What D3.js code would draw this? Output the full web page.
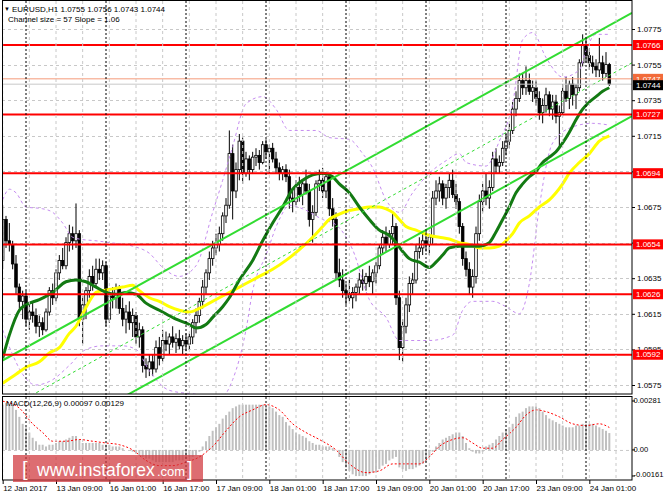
<!DOCTYPE html>
<html>
<head>
<meta charset="utf-8">
<script src="https://cdn.jsdelivr.net/npm/d3@7"></script>
<style>
  body { margin: 0; background: #fff; }
  svg text { font-family: "Liberation Sans", Arial, sans-serif; }
</style>
</head>
<body>
<div id="canvas"></div>
<script>
// EURUSD H1, bars 0..182 (12 Jan 17:00 -> 24 Jan 08:00)
const opens = [
  1.0645,1.0668,1.0656,1.0654,1.0643,1.0630,1.0622,1.0625,1.0612,1.0616,
  1.0614,1.0608,1.0610,1.0606,1.0616,1.0628,1.0624,1.0638,1.0645,1.0642,
  1.0655,1.0660,1.0656,1.0660,1.0612,1.0620,1.0628,1.0636,1.0632,1.0640,
  1.0638,1.0642,1.0612,1.0625,1.0624,1.0629,1.0618,1.0612,1.0616,1.0610,
  1.0614,1.0602,1.0606,1.0586,1.0584,1.0588,1.0584,1.0596,1.0590,1.0600,
  1.0598,1.0602,1.0599,1.0601,1.0597,1.0600,1.0598,1.0602,1.0610,1.0614,
  1.0622,1.0630,1.0638,1.0646,1.0652,1.0654,1.0660,1.0670,1.0676,1.0705,
  1.0684,1.0696,1.0712,1.0694,1.0702,1.0696,1.0703,1.0704,1.0700,1.0710,
  1.0706,1.0708,1.0702,1.0697,1.0694,1.0696,1.0692,1.0680,1.0678,1.0686,
  1.0682,1.0688,1.0684,1.0668,1.0672,1.0688,1.0690,1.0684,1.0692,1.0674,
  1.0668,1.0638,1.0634,1.0628,1.0626,1.0624,1.0627,1.0630,1.0634,1.0632,
  1.0636,1.0633,1.0638,1.0642,1.0652,1.0658,1.0654,1.0660,1.0664,1.0624,
  1.0596,1.0608,1.0620,1.0632,1.0634,1.0650,1.0652,1.0656,1.0654,1.0658,
  1.0680,1.0684,1.0688,1.0680,1.0686,1.0690,1.0682,1.0678,1.0664,1.0646,
  1.0640,1.0630,1.0636,1.0660,1.0678,1.0684,1.0680,1.0686,1.0702,1.0698,
  1.0700,1.0708,1.0712,1.0718,1.0730,1.0736,1.0746,1.0742,1.0746,1.0740,
  1.0742,1.0736,1.0728,1.0732,1.0738,1.0730,1.0734,1.0726,1.0728,1.0740,
  1.0736,1.0744,1.0738,1.0742,1.0756,1.0766,1.0760,1.0756,1.0754,1.0752,
  1.0756,1.0750,1.0755
]
const highs = [
  1.0676,1.0670,1.0666,1.0656,1.0648,1.0632,1.0628,1.0628,1.0620,1.0622,
  1.0618,1.0614,1.0613,1.0618,1.0630,1.0632,1.0640,1.0648,1.0652,1.0658,
  1.0665,1.0664,1.0677,1.0662,1.0625,1.0630,1.0640,1.0642,1.0646,1.0646,
  1.0645,1.0644,1.0628,1.0630,1.0632,1.0631,1.0624,1.0620,1.0622,1.0618,
  1.0616,1.0610,1.0608,1.0590,1.0592,1.0592,1.0600,1.0602,1.0606,1.0605,
  1.0604,1.0608,1.0604,1.0606,1.0603,1.0604,1.0604,1.0612,1.0618,1.0624,
  1.0634,1.0640,1.0650,1.0656,1.0660,1.0664,1.0672,1.0680,1.0718,1.0710,
  1.0700,1.0716,1.0714,1.0706,1.0704,1.0706,1.0708,1.0707,1.0712,1.0713,
  1.0710,1.0711,1.0706,1.0700,1.0698,1.0699,1.0696,1.0684,1.0690,1.0692,
  1.0690,1.0696,1.0688,1.0676,1.0690,1.0696,1.0697,1.0694,1.0694,1.0680,
  1.0672,1.0646,1.0640,1.0632,1.0634,1.0630,1.0632,1.0638,1.0640,1.0638,
  1.0642,1.0640,1.0644,1.0654,1.0662,1.0664,1.0662,1.0672,1.0666,1.0628,
  1.0612,1.0624,1.0636,1.0638,1.0654,1.0658,1.0660,1.0662,1.0660,1.0684,
  1.0690,1.0692,1.0690,1.0688,1.0694,1.0696,1.0688,1.0680,1.0666,1.0650,
  1.0644,1.0640,1.0664,1.0682,1.0688,1.0694,1.0690,1.0706,1.0708,1.0704,
  1.0712,1.0716,1.0722,1.0734,1.0740,1.0750,1.0750,1.0754,1.0750,1.0746,
  1.0746,1.0740,1.0736,1.0742,1.0740,1.0738,1.0738,1.0732,1.0744,1.0748,
  1.0746,1.0748,1.0744,1.0758,1.0772,1.0770,1.0764,1.0760,1.0758,1.0770,
  1.0760,1.0762,1.0756
]
const lows = [
  1.0640,1.0652,1.0650,1.0640,1.0626,1.0618,1.0612,1.0608,1.0606,1.0610,
  1.0604,1.0602,1.0603,1.0605,1.0614,1.0620,1.0622,1.0634,1.0640,1.0640,
  1.0650,1.0651,1.0652,1.0608,1.0598,1.0612,1.0624,1.0628,1.0630,1.0634,
  1.0634,1.0608,1.0610,1.0618,1.0618,1.0615,1.0608,1.0604,1.0606,1.0602,
  1.0598,1.0596,1.0582,1.0579,1.0580,1.0580,1.0582,1.0586,1.0588,1.0594,
  1.0592,1.0596,1.0593,1.0595,1.0592,1.0594,1.0595,1.0598,1.0604,1.0610,
  1.0618,1.0626,1.0634,1.0642,1.0648,1.0650,1.0656,1.0666,1.0674,1.0668,
  1.0680,1.0690,1.0688,1.0692,1.0690,1.0694,1.0698,1.0696,1.0699,1.0702,
  1.0694,1.0700,1.0694,1.0690,1.0690,1.0689,1.0674,1.0672,1.0676,1.0678,
  1.0676,1.0682,1.0664,1.0655,1.0670,1.0684,1.0680,1.0680,1.0670,1.0664,
  1.0634,1.0630,1.0624,1.0620,1.0622,1.0618,1.0622,1.0626,1.0628,1.0628,
  1.0630,1.0626,1.0632,1.0640,1.0648,1.0650,1.0652,1.0654,1.0620,1.0589,
  1.0588,1.0604,1.0616,1.0626,1.0632,1.0646,1.0648,1.0650,1.0648,1.0654,
  1.0676,1.0678,1.0676,1.0674,1.0680,1.0680,1.0674,1.0660,1.0642,1.0636,
  1.0626,1.0624,1.0632,1.0656,1.0672,1.0676,1.0674,1.0684,1.0694,1.0694,
  1.0698,1.0704,1.0708,1.0716,1.0726,1.0734,1.0738,1.0738,1.0738,1.0734,
  1.0732,1.0724,1.0722,1.0728,1.0726,1.0724,1.0722,1.0708,1.0726,1.0734,
  1.0730,1.0732,1.0730,1.0740,1.0754,1.0756,1.0752,1.0750,1.0748,1.0748,
  1.0746,1.0748,1.0743
]
const closes = [
  1.0668,1.0656,1.0654,1.0643,1.0630,1.0622,1.0625,1.0612,1.0616,1.0614,
  1.0608,1.0610,1.0606,1.0616,1.0628,1.0624,1.0638,1.0645,1.0642,1.0655,
  1.0660,1.0656,1.0660,1.0612,1.0620,1.0628,1.0636,1.0632,1.0640,1.0638,
  1.0642,1.0612,1.0625,1.0624,1.0629,1.0618,1.0612,1.0616,1.0610,1.0614,
  1.0602,1.0606,1.0586,1.0584,1.0588,1.0584,1.0596,1.0590,1.0600,1.0598,
  1.0602,1.0599,1.0601,1.0597,1.0600,1.0598,1.0602,1.0610,1.0614,1.0622,
  1.0630,1.0638,1.0646,1.0652,1.0654,1.0660,1.0670,1.0676,1.0705,1.0684,
  1.0696,1.0712,1.0694,1.0702,1.0696,1.0703,1.0704,1.0700,1.0710,1.0706,
  1.0708,1.0702,1.0697,1.0694,1.0696,1.0692,1.0680,1.0678,1.0686,1.0682,
  1.0688,1.0684,1.0668,1.0672,1.0688,1.0690,1.0684,1.0692,1.0674,1.0668,
  1.0638,1.0634,1.0628,1.0626,1.0624,1.0627,1.0630,1.0634,1.0632,1.0636,
  1.0633,1.0638,1.0642,1.0652,1.0658,1.0654,1.0660,1.0664,1.0624,1.0596,
  1.0608,1.0620,1.0632,1.0634,1.0650,1.0652,1.0656,1.0654,1.0658,1.0680,
  1.0684,1.0688,1.0680,1.0686,1.0690,1.0682,1.0678,1.0664,1.0646,1.0640,
  1.0630,1.0636,1.0660,1.0678,1.0684,1.0680,1.0686,1.0702,1.0698,1.0700,
  1.0708,1.0712,1.0718,1.0730,1.0736,1.0746,1.0742,1.0746,1.0740,1.0742,
  1.0736,1.0728,1.0732,1.0738,1.0730,1.0734,1.0726,1.0728,1.0740,1.0736,
  1.0744,1.0738,1.0742,1.0756,1.0766,1.0760,1.0756,1.0754,1.0752,1.0756,
  1.0750,1.0755,1.0744
]

// moving averages (bar index / price)
const fastIdx = [0,2,5,7,11,15,19,22,25,28,31,34,37,40,43,47,52,56,58,61,63,66,68,71,75,78,81,84,87,90,
  93,96,99,101,104,107,110,113,116,118,120,122,125,128,130,132,134,137,140,143,146,148,150,152,154,156,158,160,162,164,
  166,168,170,172,174,176,178,180,182]
const fastVal = [1.0590,1.0603,1.0617,1.0620,1.0623,1.0627,1.0633,1.0634,1.0633,1.0630,1.0627,1.0626,1.0627,1.0626,1.0621,
  1.0617,1.0612,1.0609,1.0607,1.0609,1.0613,1.0619,1.0624,1.0634,1.0645,1.0656,1.0666,1.0675,1.0685,1.0690,
  1.0693,1.0694,1.0692,1.0688,1.0683,1.0675,1.0668,1.0662,1.0659,1.0655,1.0650,1.0646,1.0644,1.0641,1.0644,
  1.0648,1.0652,1.0653,1.0653,1.0653,1.0655,1.0661,1.0668,1.0675,1.0683,1.0688,1.0692,1.0695,1.0700,1.0703,
  1.0706,1.0711,1.0717,1.0724,1.0730,1.0734,1.0737,1.0740,1.0742]
const slowIdx = [0,4,7,11,14,17,20,22,24,26,28,30,33,36,39,41,44,47,50,53,56,59,62,65,69,73,77,81,85,89,
  93,96,98,101,104,107,110,113,115,117,119,121,124,128,131,134,137,140,143,146,149,151,153,155,158,161,164,166,168,170,
  173,176,179,182]
const slowVal = [1.0576,1.0581,1.0585,1.0588,1.0593,1.0596,1.0604,1.0608,1.0615,1.0622,1.0627,1.0628,1.0629,1.0630,1.0631,
  1.0628,1.0624,1.0622,1.0619,1.0617,1.0616,1.0618,1.0621,1.0624,1.0628,1.0632,1.0636,1.0640,1.0645,1.0651,
  1.0658,1.0664,1.0668,1.0671,1.0673,1.0674,1.0675,1.0675,1.0674,1.0672,1.0668,1.0664,1.0662,1.0659,1.0658,
  1.0657,1.0655,1.0654,1.0652,1.0652,1.0653,1.0656,1.0660,1.0666,1.0670,1.0675,1.0679,1.0683,1.0688,1.0694,
  1.0700,1.0705,1.0712,1.0715]

// envelope bands (purple dashed)
const bandUpIdx = [0,2,4,7,12,15,18,21,23,28,32,39,44,48,53,58,63,66,69,73,78,82,86,94,98,104,108,111,115,119,
  123,128,133,137,139,145,149,153,156,159,163,168,173,175,178,182]
const bandUpVal = [1.0679,1.0685,1.0683,1.0675,1.0674,1.0672,1.0666,1.0658,1.0657,1.0656,1.0655,1.0653,1.0649,1.0641,1.0636,
  1.0642,1.0672,1.0690,1.0709,1.0733,1.0737,1.0730,1.0718,1.0718,1.0714,1.0713,1.0705,1.0697,1.0679,1.0672,
  1.0683,1.0694,1.0701,1.0705,1.0700,1.0698,1.0712,1.0733,1.0769,1.0773,1.0759,1.0748,1.0752,1.0763,1.0772,1.0772]
const bandLoIdx = [0,3,6,10,15,20,25,30,36,40,44,50,57,63,66,69,73,75,79,83,86,90,96,100,105,110,115,119,128,135,
  138,141,147,151,155,158,161,165,171,177,182]
const bandLoVal = [1.0606,1.0592,1.0581,1.0575,1.0578,1.0586,1.0595,1.0597,1.0597,1.0595,1.0583,1.0572,1.0570,1.0569,1.0569,
  1.0578,1.0606,1.0628,1.0648,1.0668,1.0676,1.0674,1.0668,1.0665,1.0651,1.0623,1.0613,1.0600,1.0600,1.0603,
  1.0617,1.0622,1.0622,1.0619,1.0615,1.0632,1.0675,1.0711,1.0720,1.0722,1.0721]

// trend channel (bar index, price)
const channelUpper = [[-0.8, 1.0588], [188.8, 1.0784]]
const channelMiddle = [[8.5, 1.0569], [188.8, 1.0756]]
const channelLower = [[37, 1.0569], [188.8, 1.0726]]

const levels = [1.0766, 1.0727, 1.0694, 1.0654, 1.0626, 1.0592]
const askLevel = 1.0747
const bidLevel = 1.0744

// MACD(12,26,9)
const macdHist = [
  0.0026,0.0027,0.0026,0.0026,0.0023,0.0019,0.0015,0.0013,0.0010,0.0007,
  0.0005,0.0003,0.0003,0.0002,0.0003,0.0003,0.0004,0.0005,0.0005,0.0006,
  0.0007,0.0008,0.0008,0.0006,0.0004,0.0004,0.0004,0.0004,0.0004,0.0004,
  0.0003,0.0003,0.0003,0.0002,0.0002,0.0002,0.0001,0,0,-0.0001,
  -0.0002,-0.0003,-0.0004,-0.0005,-0.0005,-0.0006,-0.0007,-0.0007,-0.0007,-0.0007,
  -0.0007,-0.0007,-0.0006,-0.0006,-0.0006,-0.0005,-0.0004,-0.0004,-0.0003,-0.0001,
  0.0002,0.0005,0.0008,0.0011,0.0013,0.0015,0.0018,0.0020,0.0022,0.0024,
  0.0025,0.0026,0.0026,0.0026,0.0026,0.0026,0.0026,0.0026,0.0026,0.0025,
  0.0025,0.0024,0.0022,0.0020,0.0019,0.0016,0.0014,0.0012,0.0010,0.0009,
  0.0008,0.0007,0.0005,0.0004,0.0003,0.0003,0.0002,0.0002,0.0002,0.0001,
  0,-0.0004,-0.0007,-0.0010,-0.0012,-0.0014,-0.0015,-0.0015,-0.0015,-0.0015,
  -0.0014,-0.0013,-0.0013,-0.0011,-0.0009,-0.0008,-0.0006,-0.0005,-0.0004,-0.0010,
  -0.0011,-0.0012,-0.0011,-0.0011,-0.0010,-0.0009,-0.0008,-0.0007,-0.0004,-0.0001,
  0.0002,0.0004,0.0006,0.0007,0.0008,0.0009,0.0010,0.0010,0.0008,0.0004,
  0.0001,-0.0001,-0.0002,-0.0002,-0.0001,0.0002,0.0003,0.0004,0.0006,0.0008,
  0.0010,0.0012,0.0013,0.0015,0.0019,0.0021,0.0022,0.0024,0.0025,0.0025,
  0.0025,0.0024,0.0022,0.0020,0.0018,0.0017,0.0016,0.0015,0.0014,0.0013,
  0.0013,0.0013,0.0014,0.0014,0.0015,0.0015,0.0015,0.0015,0.0014,0.0013,
  0.0012,0.0011,0.00097
]
const signalIdx = [0,5,9,12,15,19,23,27,31,35,39,43,47,51,55,59,63,67,71,75,79,83,87,91,95,100,104,109,113,117,
  121,125,128,131,135,138,141,144,147,150,154,157,160,163,167,171,175,179,182]
const signalVal = [0.0028,0.0024,0.0015,0.0010,0.0005,0.0005,0.0006,0.0005,0.0004,0.0003,0.0000,-0.0006,-0.0009,-0.0009,-0.0007,
  -0.0004,0.0002,0.0011,0.0019,0.0023,0.0026,0.0023,0.0015,0.0010,0.0006,0.0000,-0.0008,-0.0013,-0.0012,-0.0008,
  -0.0008,-0.0008,-0.0004,0.0002,0.0006,0.0007,0.0004,0.0001,0.0001,0.0006,0.0013,0.0020,0.0023,0.0022,0.0019,
  0.0015,0.0014,0.0015,0.00129]

const priceTicks = [1.0775,1.0755,1.0735,1.0715,1.0695,1.0675,1.0655,1.0635,1.0615,1.0595,1.0575]
const macdTicks = [0.00281, 0, -0.00161]
const macdTickLabels = ["0.00281", "0.00", "-0.00161"]
const timeIdx = [0,16,32,48,64,80,96,112,128,144,160,176]
const timeLabels = ["12 Jan 2017","13 Jan 09:00","16 Jan 01:00","16 Jan 17:00","17 Jan 09:00","18 Jan 01:00",
  "18 Jan 17:00","19 Jan 09:00","20 Jan 01:00","20 Jan 17:00","23 Jan 09:00","24 Jan 01:00"]
const daySeparators = [7,31,55,79,103,127,151,175]

window.onload = function (){setup()}

function setup(){

  let svg = d3.select("#canvas")
    .append("svg")
    .attr("width", 664)
    .attr("height", 498)
    .style("display", "block")
    .style("background", "#fff")

  let x = d3.scaleLinear().domain([-0.8, 188.8]).range([0, 632])
  let y = d3.scaleLinear().domain([1.0575, 1.0775]).range([385, 29])
  let ym = d3.scaleLinear().domain([-0.00161, 0.00281]).range([478, 401])

  let defs = svg.append("defs")
  defs.append("clipPath").attr("id", "clipMain")
    .append("rect").attr("x", 2).attr("y", 1).attr("width", 630).attr("height", 393)
  defs.append("clipPath").attr("id", "clipMacd")
    .append("rect").attr("x", 2).attr("y", 396).attr("width", 630).attr("height", 84)

  let main = svg.append("g").attr("clip-path", "url(#clipMain)")
  let macd = svg.append("g").attr("clip-path", "url(#clipMacd)")

  function pts(idx, val){
    return idx.map((d, k) => ({i: d, v: val[k]}))
  }

  function drawGrid(){
    let gridIdx = d3.range(0, 189, 8)
    svg.append("g").selectAll("line")
      .data(gridIdx)
      .join("line")
      .attr("x1", d => x(d)).attr("x2", d => x(d))
      .attr("y1", 1).attr("y2", 480)
      .attr("stroke", "#c8c8c8")
      .attr("stroke-dasharray", "3,3")
    main.append("g").selectAll("line")
      .data(priceTicks)
      .join("line")
      .attr("x1", 2).attr("x2", 632)
      .attr("y1", d => Math.round(y(d)) + 0.5).attr("y2", d => Math.round(y(d)) + 0.5)
      .attr("stroke", "#c8c8c8")
      .attr("stroke-dasharray", "3,3")
    svg.append("g").selectAll("line")
      .data(daySeparators)
      .join("line")
      .attr("x1", d => x(d)).attr("x2", d => x(d))
      .attr("y1", 1).attr("y2", 480)
      .attr("stroke", "#000")
      .attr("stroke-width", 1)
      .attr("stroke-dasharray", "2,2")
  }

  function drawCandles(){
    let bars = opens.map((o, i) => ({i: i, o: o, h: highs[i], l: lows[i], c: closes[i]}))
    let g = main.append("g")
    g.selectAll("line")
      .data(bars)
      .join("line")
      .attr("x1", d => x(d.i)).attr("x2", d => x(d.i))
      .attr("y1", d => y(d.h)).attr("y2", d => y(d.l))
      .attr("stroke", "#000")
      .attr("stroke-width", 1)
    g.selectAll("rect")
      .data(bars)
      .join("rect")
      .attr("x", d => x(d.i) - 1.3)
      .attr("width", 2.6)
      .attr("y", d => y(Math.max(d.o, d.c)))
      .attr("height", d => Math.max(1, Math.abs(y(d.o) - y(d.c))))
      .attr("fill", d => d.c >= d.o ? "#fff" : "#000")
      .attr("stroke", "#000")
      .attr("stroke-width", 0.8)
  }

  function drawIndicators(){
    let curve = d3.line().x(d => x(d.i)).y(d => y(d.v)).curve(d3.curveMonotoneX)
    main.append("path").datum(pts(bandUpIdx, bandUpVal))
      .attr("d", curve).attr("fill", "none")
      .attr("stroke", "#c58cf0").attr("stroke-width", 1).attr("stroke-dasharray", "3,3")
    main.append("path").datum(pts(bandLoIdx, bandLoVal))
      .attr("d", curve).attr("fill", "none")
      .attr("stroke", "#c58cf0").attr("stroke-width", 1).attr("stroke-dasharray", "3,3")
    main.append("path").datum(pts(slowIdx, slowVal))
      .attr("d", curve).attr("fill", "none")
      .attr("stroke", "#ffff00").attr("stroke-width", 3)
    main.append("path").datum(pts(fastIdx, fastVal))
      .attr("d", curve).attr("fill", "none")
      .attr("stroke", "#137a13").attr("stroke-width", 3)
  }

  function drawChannel(){
    let straight = d3.line().x(d => x(d[0])).y(d => y(d[1]))
    main.append("path").datum(channelUpper)
      .attr("d", straight).attr("stroke", "#32dc32").attr("stroke-width", 2).attr("fill", "none")
    main.append("path").datum(channelLower)
      .attr("d", straight).attr("stroke", "#32dc32").attr("stroke-width", 2).attr("fill", "none")
    main.append("path").datum(channelMiddle)
      .attr("d", straight).attr("stroke", "#32dc32").attr("stroke-width", 1)
      .attr("stroke-dasharray", "3,3").attr("fill", "none")
  }

  function drawLevels(){
    main.append("line")
      .attr("x1", 2).attr("x2", 632)
      .attr("y1", y(bidLevel)).attr("y2", y(bidLevel))
      .attr("stroke", "#c8c8c8")
    main.append("line")
      .attr("x1", 2).attr("x2", 632)
      .attr("y1", y(askLevel)).attr("y2", y(askLevel))
      .attr("stroke", "#f59a7a")
    main.append("g").selectAll("line")
      .data(levels)
      .join("line")
      .attr("x1", 2).attr("x2", 632)
      .attr("y1", d => y(d)).attr("y2", d => y(d))
      .attr("stroke", "#ff0000")
      .attr("stroke-width", 2)
  }

  function drawMacd(){
    macd.append("line")
      .attr("x1", 2).attr("x2", 632)
      .attr("y1", ym(0) + 0.5).attr("y2", ym(0) + 0.5)
      .attr("stroke", "#c8c8c8").attr("stroke-dasharray", "3,3")
    macd.append("g").selectAll("rect")
      .data(macdHist)
      .join("rect")
      .attr("x", (d, i) => x(i) - 1)
      .attr("width", 2)
      .attr("y", d => Math.min(ym(d), ym(0)))
      .attr("height", d => Math.abs(ym(d) - ym(0)))
      .attr("fill", "#c0c0c0")
    let curve = d3.line().x(d => x(d.i)).y(d => ym(d.v)).curve(d3.curveMonotoneX)
    macd.append("path").datum(pts(signalIdx, signalVal))
      .attr("d", curve).attr("fill", "none")
      .attr("stroke", "#ff0000").attr("stroke-width", 1).attr("stroke-dasharray", "2,2")
    svg.append("text")
      .attr("x", 6).attr("y", 406)
      .attr("font-size", 8)
      .attr("fill", "#000")
      .text("MACD(12,26,9) " + macdHist[macdHist.length - 1].toFixed(5) + " " + signalVal[signalVal.length - 1].toFixed(5))
  }

  function drawFrames(){
    svg.append("rect")
      .attr("x", 2.5).attr("y", 0.5).attr("width", 629.5).attr("height", 393.5)
      .attr("fill", "none").attr("stroke", "#000")
    svg.append("rect")
      .attr("x", 2.5).attr("y", 396.5).attr("width", 629.5).attr("height", 83.5)
      .attr("fill", "none").attr("stroke", "#000")
  }

  function drawAxes(){
    let priceAxis = svg.append("g")
      .attr("transform", "translate(632,0)")
      .call(d3.axisRight(y).tickValues(priceTicks).tickFormat(d3.format(".4f")).tickSize(3).tickPadding(2))
    priceAxis.select(".domain").remove()
    priceAxis.selectAll("text").attr("font-size", 8).attr("font-family", "Liberation Sans, Arial, sans-serif").attr("fill", "#000")
    priceAxis.selectAll("line").attr("stroke", "#000")

    let macdAxis = svg.append("g").attr("transform", "translate(632,0)")
    macdAxis.selectAll("line")
      .data(macdTicks)
      .join("line")
      .attr("x1", 0).attr("x2", 3)
      .attr("y1", d => Math.min(ym(d), 476)).attr("y2", d => Math.min(ym(d), 476))
      .attr("stroke", "#000")
    macdAxis.selectAll("text")
      .data(macdTicks)
      .join("text")
      .attr("x", 1.5)
      .attr("y", d => Math.min(ym(d), 475))
      .attr("dy", "0.32em")
      .attr("font-size", 7.6)
      .attr("fill", "#000")
      .text((d, i) => macdTickLabels[i])

    let timeAxis = svg.append("g")
      .attr("transform", "translate(0,480)")
      .call(d3.axisBottom(x).tickValues(timeIdx).tickFormat((d, i) => timeLabels[i]).tickSize(4).tickPadding(1))
    timeAxis.select(".domain").remove()
    timeAxis.selectAll("line").attr("stroke", "#000")
    timeAxis.selectAll("text")
      .attr("font-size", 8)
      .attr("font-family", "Liberation Sans, Arial, sans-serif")
      .attr("fill", "#000")
      .attr("text-anchor", "start")
      .attr("x", 0)
  }

  function drawTags(){
    let tags = svg.append("g")
    tags.selectAll("rect")
      .data(levels)
      .join("rect")
      .attr("x", 633).attr("width", 30)
      .attr("y", d => y(d) - 5).attr("height", 10)
      .attr("fill", "#ff0000")
    tags.selectAll("text")
      .data(levels)
      .join("text")
      .attr("x", 636).attr("y", d => y(d)).attr("dy", "0.34em")
      .attr("font-size", 8).attr("fill", "#fff")
      .text(d => d.toFixed(4))

    tags.append("rect").attr("x", 633).attr("width", 30)
      .attr("y", y(askLevel) - 5).attr("height", 10).attr("fill", "#f26b3a")
    tags.append("text").attr("x", 636).attr("y", y(askLevel)).attr("dy", "0.34em")
      .attr("font-size", 8).attr("fill", "#fff").text(askLevel.toFixed(4))
    tags.append("rect").attr("x", 633).attr("width", 30)
      .attr("y", y(bidLevel) - 4).attr("height", 10).attr("fill", "#000")
    tags.append("text").attr("x", 636).attr("y", y(bidLevel) + 1).attr("dy", "0.34em")
      .attr("font-size", 8).attr("fill", "#fff").text(bidLevel.toFixed(4))
  }

  function drawHeader(){
    svg.append("text")
      .attr("x", 4).attr("y", 11)
      .attr("font-size", 6).attr("font-family", "DejaVu Sans").attr("fill", "#000")
      .text("\u25BC")
    svg.append("text")
      .attr("x", 12).attr("y", 11.5)
      .attr("font-size", 8).attr("fill", "#000")
      .text("EURUSD,H1  " + [opens[182], highs[182], lows[182], closes[182]].map(d => d.toFixed(4)).join(" "))
    svg.append("text")
      .attr("x", 8).attr("y", 22)
      .attr("font-size", 8).attr("fill", "#000")
      .text("Channel size = 57 Slope = 1.06")
  }

  function drawWatermark(){
    let g = svg.append("g")
    g.append("rect")
      .attr("x", 13).attr("y", 455).attr("width", 190).attr("height", 27)
      .attr("fill", "rgba(208,52,58,0.72)")
    g.append("text")
      .attr("x", 22).attr("y", 476)
      .attr("font-size", 20).attr("fill", "#fff").attr("font-weight", 300)
      .text("[")
    g.append("text")
      .attr("x", 37).attr("y", 475.5)
      .attr("font-size", 17.5).attr("fill", "#fff")
      .text("www.instaforex")
    g.append("text")
      .attr("x", 157).attr("y", 475.5)
      .attr("font-size", 13).attr("fill", "#fff")
      .text(".com")
    g.append("text")
      .attr("x", 187).attr("y", 476)
      .attr("font-size", 20).attr("fill", "#fff")
      .text("]")
  }

  drawGrid()
  drawCandles()
  drawIndicators()
  drawChannel()
  drawLevels()
  drawMacd()
  drawFrames()
  drawAxes()
  drawTags()
  drawHeader()
  drawWatermark()
}
</script>
</body>
</html>
